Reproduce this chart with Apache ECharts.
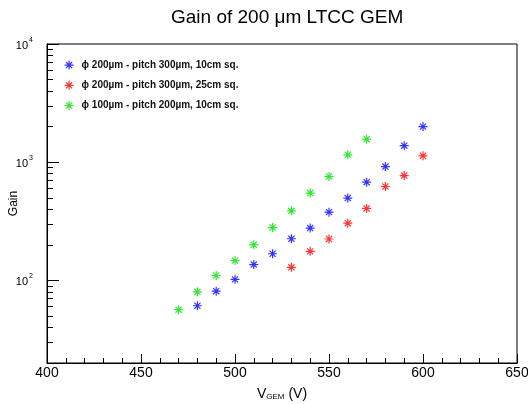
<!DOCTYPE html>
<html>
<head>
<meta charset="utf-8">
<script src="https://cdn.jsdelivr.net/npm/echarts@6/dist/echarts.min.js"></script>
<style>
  html, body { margin: 0; padding: 0; background: #fff; }
  #chart { width: 528px; height: 404px; }
</style>
</head>
<body>
<div id="chart"></div>
<script>
// voltages (V) and gains
const vBlue = [480, 490, 500, 510, 520, 530, 540, 550, 560, 570, 580, 590, 600]
const gainBlue = [61, 81, 102, 136, 168, 225, 277, 378, 497, 678, 918, 1380, 2000]
const vRed = [530, 540, 550, 560, 570, 580, 590, 600]
const gainRed = [129, 176, 224, 305, 406, 623, 771, 1132]
const vGreen = [470, 480, 490, 500, 510, 520, 530, 540, 550, 560, 570]
const gainGreen = [56.5, 80, 110, 147, 200, 280, 388, 548, 757, 1154, 1566]

const seriesNames = [
  'ϕ 200µm - pitch 300µm, 10cm sq.',
  'ϕ 200µm - pitch 300µm, 25cm sq.',
  'ϕ 100µm - pitch 200µm, 10cm sq.'
]
const seriesColors = ['#0000ff', '#ff0000', '#00e000']

const yMajor = [100, 1000, 10000]
const yMinor = [30, 40, 50, 60, 70, 80, 90, 200, 300, 400, 500, 600, 700, 800, 900,
  2000, 3000, 4000, 5000, 6000, 7000, 8000, 9000]

const star = 'path://M5 0V10M0 5H10M1.6 1.6L8.4 8.4M8.4 1.6L1.6 8.4'
const font = 'Liberation Sans'

function pairs(xs, ys) {
  return xs.map((x, i) => [x, ys[i]])
}

let myChart = echarts.init(document.getElementById('chart'))

const yBase = {
  type: 'log',
  logBase: 10,
  min: 20,
  max: 10000,
  position: 'left',
  splitLine: { show: false },
  axisLine: { show: true, lineStyle: { color: '#000', width: 1 } }
}

myChart.setOption({
  animation: false,
  backgroundColor: '#fff',
  title: {
    text: 'Gain of 200 μm LTCC GEM',
    left: 166,
    top: 3,
    textStyle: { fontFamily: font, fontSize: 19, fontWeight: 'normal', color: '#000' }
  },
  legend: {
    orient: 'vertical',
    left: 59,
    top: 55,
    itemWidth: 9,
    itemHeight: 9,
    itemGap: 10,
    itemStyle: { color: 'transparent', borderWidth: 1.2 },
    textStyle: { fontFamily: font, fontSize: 10, fontWeight: 'bold', color: '#111', padding: [0, 0, 0, 3] }
  },
  grid: {
    left: 47,
    right: 11,
    top: 44,
    bottom: 41,
    outerBoundsMode: 'none',
    show: true,
    borderColor: '#000',
    borderWidth: 1
  },
  xAxis: {
    type: 'value',
    min: 400,
    max: 650,
    interval: 50,
    name: '{a|V}{s|GEM}{a| (V)}',
    nameLocation: 'middle',
    nameGap: 24,
    nameTextStyle: {
      rich: {
        a: { fontFamily: font, fontSize: 14, color: '#000' },
        s: { fontFamily: font, fontSize: 8, color: '#000', verticalAlign: 'bottom', padding: [6, 0, 0, 0] }
      }
    },
    splitLine: { show: false },
    axisLine: { lineStyle: { color: '#000', width: 1 } },
    axisTick: { inside: true, length: 9, lineStyle: { color: '#000' } },
    minorTick: { show: true, splitNumber: 5, length: 5, lineStyle: { color: '#000' } },
    axisLabel: { fontFamily: font, fontSize: 14, color: '#000', margin: 3 }
  },
  yAxis: [
    Object.assign({}, yBase, {
      name: 'Gain',
      nameLocation: 'middle',
      nameGap: 27,
      nameMoveOverlap: false,
      nameTextStyle: { fontFamily: font, fontSize: 12, color: '#000' },
      axisTick: { inside: true, length: 12, customValues: yMajor, lineStyle: { color: '#000' } },
      axisLabel: {
        customValues: yMajor,
        margin: 14,
        formatter: v => '{b|10}{s|' + Math.round(Math.log10(v)) + '}',
        rich: {
          b: { fontFamily: font, fontSize: 11, color: '#000', padding: [4, 0, 0, 0] },
          s: { fontFamily: font, fontSize: 7, color: '#000', verticalAlign: 'top', padding: [0, 0, 6, 1] }
        }
      }
    }),
    Object.assign({}, yBase, {
      axisTick: { inside: true, length: 6, customValues: yMinor, lineStyle: { color: '#000' } },
      axisLabel: { show: false }
    })
  ],
  series: [
    { data: pairs(vBlue, gainBlue) },
    { data: pairs(vRed, gainRed) },
    { data: pairs(vGreen, gainGreen) }
  ].map((s, i) => ({
    name: seriesNames[i],
    type: 'scatter',
    data: s.data,
    symbol: star,
    symbolSize: 9,
    itemStyle: { color: 'transparent', borderColor: seriesColors[i], borderWidth: 1.2 }
  }))
})
</script>
</body>
</html>
